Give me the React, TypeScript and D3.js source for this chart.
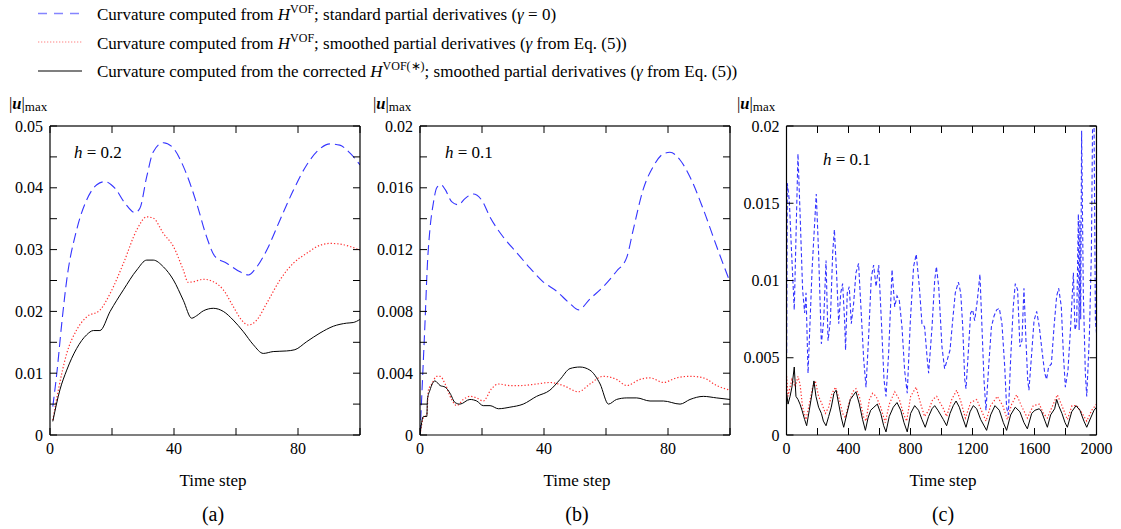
import React from 'react';
import * as d3 from 'd3';

type Pt = [number, number];

// ---------- Panel (a): h = 0.2 ----------
const A_BLUE: Pt[] = [
  [0.9, 0.0046], [2.2, 0.01], [3.8, 0.0181], [5.4, 0.0251], [8.6, 0.0332], [11.8, 0.038],
  [15.1, 0.0405], [17.7, 0.041], [21, 0.0399], [24.2, 0.0375], [27.4, 0.036], [29, 0.0367],
  [31.2, 0.0418], [33.3, 0.0458], [36.6, 0.0473], [39.8, 0.0464], [43.5, 0.0429], [47.3, 0.0375],
  [50.5, 0.0321], [53.2, 0.0289], [57, 0.0278], [61.3, 0.0264], [64, 0.0259], [66.7, 0.0272],
  [69.9, 0.0299], [74.2, 0.0348], [78.5, 0.0396], [82.8, 0.0437], [86.6, 0.0461], [90.3, 0.0471],
  [93.5, 0.0469], [96.8, 0.0456], [100, 0.0437],
];
const A_RED: Pt[] = [
  [0.9, 0.0024], [2.7, 0.0073], [5.4, 0.0132], [8.6, 0.017], [11.8, 0.0191], [16.1, 0.0202],
  [19.4, 0.0229], [23.7, 0.0278], [28, 0.0332], [31.2, 0.0353], [33.3, 0.0351], [36.6, 0.0326],
  [39.8, 0.0305], [43, 0.0267], [44.6, 0.0247], [46.2, 0.0248], [49.5, 0.0252], [52.7, 0.0248],
  [55.9, 0.0235], [59.1, 0.0208], [61.8, 0.0186], [64, 0.0178], [66.7, 0.0186], [69.9, 0.0213],
  [74.2, 0.0251], [78.5, 0.0278], [82.8, 0.0294], [87.1, 0.0307], [90.3, 0.031], [93.5, 0.0309],
  [96.8, 0.0305], [100, 0.0299],
];
const A_BLACK: Pt[] = [
  [0.9, 0.0022], [3.2, 0.0073], [5.4, 0.0105], [8.6, 0.014], [11.8, 0.0162], [14, 0.0169],
  [16.1, 0.0169], [19.4, 0.02], [23.7, 0.0235], [28, 0.0267], [31.2, 0.0283], [33.3, 0.0283],
  [36.6, 0.0272], [39.8, 0.0251], [43, 0.0218], [45.7, 0.0189], [47.3, 0.0193], [49.5, 0.0201],
  [52.7, 0.0205], [55.9, 0.02], [59.1, 0.0186], [62.4, 0.0167], [65.6, 0.0146], [68.8, 0.0132],
  [72, 0.0135], [76.3, 0.0136], [79, 0.0138], [82.8, 0.0151], [87.1, 0.0165], [91.4, 0.0176],
  [95.7, 0.0181], [97.8, 0.0182], [100, 0.0187],
];

// ---------- Panel (b): h = 0.1 ----------
const B_BLUE: Pt[] = [
  [0, 0], [0.9, 0.004], [1.6, 0.0072], [2.4, 0.0111], [3.2, 0.0133], [4.3, 0.015], [5.4, 0.016],
  [6.7, 0.0162], [8.1, 0.0159], [10.2, 0.0151], [12.4, 0.0149], [14.5, 0.0153], [17.2, 0.0156],
  [19.9, 0.0152], [22.6, 0.0141], [26.9, 0.0128], [31.2, 0.0118], [35.5, 0.0108], [39.8, 0.0099],
  [44.1, 0.0093], [48.4, 0.0085], [51.1, 0.0081], [54.8, 0.0088], [59.1, 0.0096], [63.4, 0.0106],
  [66.7, 0.0115], [68.8, 0.0133], [72, 0.0159], [75.3, 0.0174], [78.5, 0.0182], [80.6, 0.0183],
  [83.9, 0.0178], [87.1, 0.0167], [91.4, 0.0146], [95.7, 0.0122], [100, 0.0099],
];
const B_RED: Pt[] = [
  [0, 0], [1.1, 0.0011], [2.2, 0.0013], [2.7, 0.0029], [3.8, 0.0033], [5.4, 0.0038], [6.5, 0.0038],
  [8.1, 0.0033], [10.2, 0.0023], [11.8, 0.0019], [14, 0.0023], [16.1, 0.0025], [18.3, 0.0024],
  [20.4, 0.0022], [23.1, 0.003], [25.3, 0.0033], [29, 0.0032], [32.3, 0.0032], [37.6, 0.0033],
  [41.9, 0.0034], [46.2, 0.0032], [51.1, 0.0028], [54.8, 0.0033], [59.1, 0.0038], [63.4, 0.0036],
  [66.7, 0.0032], [71, 0.0036], [74.2, 0.0037], [78.5, 0.0034], [82.8, 0.0037], [87.1, 0.0038],
  [91.4, 0.0037], [95.7, 0.0032], [100, 0.0029],
];
const B_BLACK: Pt[] = [
  [0, 0], [1.1, 0.0012], [2.2, 0.0012], [2.4, 0.0023], [3.2, 0.0029], [4.8, 0.0035], [6.5, 0.0032],
  [8.1, 0.0031], [9.7, 0.0027], [11.3, 0.0021], [12.9, 0.002], [16.1, 0.0023], [18.3, 0.0022],
  [20.4, 0.0019], [22.6, 0.0019], [25.3, 0.0017], [29, 0.0018], [33.3, 0.002], [37.6, 0.0025],
  [41.9, 0.0029], [45.2, 0.0036], [48.4, 0.0043], [51.6, 0.0044], [54.8, 0.0042], [58.1, 0.0033],
  [60.8, 0.002], [63.4, 0.0023], [66.7, 0.0024], [69.9, 0.0024], [74.2, 0.0022], [78.5, 0.0022],
  [83.9, 0.002], [87.1, 0.0023], [91.4, 0.0025], [95.7, 0.0024], [100, 0.0023],
];

// ---------- Panel (c): h = 0.1, long run ----------
const C_BLUE: Pt[] = [
  [1, 0.0053], [5, 0.0163], [18, 0.0152], [31, 0.0122], [50, 0.0081], [74, 0.0182], [89, 0.0139],
  [104, 0.0094], [117, 0.0079], [126, 0.0092], [139, 0.004], [165, 0.0107], [192, 0.0156],
  [207, 0.0118], [225, 0.0059], [240, 0.0074], [255, 0.0113], [268, 0.0061], [283, 0.0074],
  [298, 0.0118], [309, 0.0133], [322, 0.0107], [337, 0.0072], [350, 0.0092], [362, 0.0098],
  [375, 0.0074], [381, 0.0055], [392, 0.0092], [405, 0.0096], [418, 0.0072], [433, 0.0085],
  [448, 0.0105], [465, 0.0111], [480, 0.0083], [498, 0.0049], [513, 0.0031], [530, 0.0064],
  [547, 0.0102], [562, 0.011], [578, 0.0096], [595, 0.011], [612, 0.0074], [629, 0.0036],
  [642, 0.0025], [659, 0.0053], [681, 0.0107], [698, 0.0083], [713, 0.009], [728, 0.0087],
  [745, 0.007], [762, 0.0042], [779, 0.0027], [799, 0.0074], [820, 0.0109], [837, 0.0117],
  [857, 0.0096], [874, 0.0072], [891, 0.007], [908, 0.0049], [917, 0.004], [939, 0.007],
  [956, 0.01], [967, 0.0109], [982, 0.0096], [1003, 0.0057], [1020, 0.0043], [1038, 0.0049],
  [1055, 0.0055], [1072, 0.0074], [1089, 0.0092], [1109, 0.0099], [1124, 0.0092], [1137, 0.007],
  [1150, 0.0036], [1158, 0.003], [1175, 0.0057], [1188, 0.0079], [1201, 0.0081], [1214, 0.0074],
  [1231, 0.0087], [1248, 0.0104], [1261, 0.007], [1274, 0.0036], [1287, 0.0016], [1304, 0.0044],
  [1322, 0.007], [1339, 0.0077], [1356, 0.0081], [1373, 0.0082], [1390, 0.0072], [1408, 0.0044],
  [1420, 0.0018], [1431, 0.0013], [1446, 0.0049], [1463, 0.0083], [1476, 0.0098], [1491, 0.0094],
  [1506, 0.0057], [1519, 0.0061], [1532, 0.0095], [1545, 0.0061], [1556, 0.0036], [1564, 0.0029],
  [1582, 0.0053], [1597, 0.0074], [1614, 0.008], [1631, 0.007], [1648, 0.0055], [1666, 0.004],
  [1678, 0.0036], [1691, 0.0044], [1709, 0.0046], [1726, 0.007], [1743, 0.009], [1756, 0.0095],
  [1773, 0.0083], [1786, 0.0053], [1799, 0.0031], [1816, 0.0042], [1833, 0.007], [1851, 0.0105],
  [1861, 0.0068], [1872, 0.0072], [1883, 0.0143], [1888, 0.0068], [1893, 0.0139], [1898, 0.0075],
  [1904, 0.0197], [1915, 0.0092], [1928, 0.004], [1937, 0.0025], [1954, 0.0064], [1967, 0.0118],
  [1975, 0.0205], [1984, 0.0205], [1993, 0.0074], [2000, 0.0066],
];
const C_RED: Pt[] = [
  [1, 0.0038], [10, 0.0025], [23, 0.0031], [35, 0.0036], [57, 0.0031], [74, 0.0038], [87, 0.0033],
  [104, 0.0018], [126, 0.001], [147, 0.002], [169, 0.0031], [186, 0.0035], [207, 0.0025],
  [229, 0.002], [251, 0.0014], [272, 0.0018], [294, 0.0027], [316, 0.0031], [341, 0.0023],
  [362, 0.0014], [380, 0.0011], [401, 0.002], [427, 0.0028], [448, 0.003], [470, 0.0025],
  [496, 0.0012], [513, 0.0009], [535, 0.0023], [556, 0.0027], [578, 0.0025], [608, 0.0018],
  [637, 0.0008], [663, 0.002], [698, 0.0028], [728, 0.0023], [754, 0.0014], [775, 0.0009],
  [801, 0.0025], [836, 0.0031], [866, 0.002], [891, 0.0012], [917, 0.0016], [943, 0.0023],
  [969, 0.0025], [995, 0.002], [1008, 0.0018], [1033, 0.0012], [1066, 0.0023], [1098, 0.0029],
  [1124, 0.0022], [1154, 0.0011], [1188, 0.0021], [1227, 0.0023], [1257, 0.0016], [1287, 0.0009],
  [1317, 0.0019], [1360, 0.0025], [1395, 0.0019], [1425, 0.001], [1453, 0.002], [1485, 0.0026],
  [1515, 0.0019], [1554, 0.0011], [1592, 0.0019], [1631, 0.002], [1657, 0.0014], [1683, 0.0011],
  [1717, 0.0019], [1747, 0.0026], [1777, 0.0019], [1812, 0.001], [1842, 0.0019], [1872, 0.0019],
  [1902, 0.0015], [1937, 0.0009], [1969, 0.0016], [2000, 0.002],
];
const C_BLACK: Pt[] = [
  [1, 0.0027], [10, 0.002], [23, 0.0025], [35, 0.0031], [50, 0.0044], [61, 0.0025], [74, 0.0023],
  [87, 0.002], [100, 0.0016], [117, 0.001], [130, 0.0006], [147, 0.0016], [165, 0.0027],
  [177, 0.0035], [190, 0.0025], [207, 0.0018], [225, 0.0014], [238, 0.0009], [255, 0.0006],
  [272, 0.0012], [289, 0.0018], [306, 0.0027], [320, 0.0029], [337, 0.002], [354, 0.0011],
  [369, 0.0005], [390, 0.0014], [412, 0.0023], [448, 0.0028], [470, 0.002], [491, 0.001],
  [509, 0.0003], [526, 0.0011], [543, 0.0016], [564, 0.0018], [586, 0.002], [608, 0.0014],
  [627, 0.0006], [642, 0.0002], [663, 0.0012], [689, 0.0018], [713, 0.0021], [737, 0.0016],
  [758, 0.0008], [779, 0.0002], [801, 0.0014], [827, 0.0019], [852, 0.0016], [874, 0.001],
  [895, 0.0005], [917, 0.0012], [939, 0.0017], [956, 0.0019], [977, 0.0016], [1012, 0.001],
  [1033, 0.0006], [1055, 0.0014], [1076, 0.0019], [1094, 0.0022], [1115, 0.0018], [1137, 0.0011],
  [1158, 0.0005], [1184, 0.0015], [1205, 0.0019], [1227, 0.0017], [1253, 0.001], [1291, 0.0003],
  [1317, 0.0013], [1345, 0.0019], [1373, 0.0016], [1399, 0.0008], [1420, 0.0003], [1446, 0.0013],
  [1476, 0.0018], [1506, 0.0015], [1532, 0.0008], [1554, 0.0004], [1582, 0.0014], [1603, 0.0016],
  [1631, 0.0017], [1646, 0.0015], [1668, 0.0009], [1683, 0.0005], [1704, 0.0013], [1730, 0.0017],
  [1743, 0.0023], [1756, 0.0019], [1777, 0.0014], [1797, 0.0008], [1812, 0.0005], [1840, 0.0015],
  [1868, 0.0019], [1893, 0.0016], [1919, 0.0009], [1937, 0.0005], [1962, 0.0011], [1984, 0.0016],
  [2000, 0.0018],
];

// ---------- Axes ----------
const A_X_TICKS = [0, 20, 40, 60, 80, 100];
const A_X_LABELS = [0, 40, 80];
const A_Y_TICKS = [0, 0.005, 0.01, 0.015, 0.02, 0.025, 0.03, 0.035, 0.04, 0.045, 0.05];
const A_Y_LABELS = [0, 0.01, 0.02, 0.03, 0.04, 0.05];

const B_X_TICKS = [0, 20, 40, 60, 80, 100];
const B_X_LABELS = [0, 40, 80];
const B_Y_TICKS = [0, 0.002, 0.004, 0.006, 0.008, 0.01, 0.012, 0.014, 0.016, 0.018, 0.02];
const B_Y_LABELS = [0, 0.004, 0.008, 0.012, 0.016, 0.02];

const C_X_TICKS = [0, 200, 400, 600, 800, 1000, 1200, 1400, 1600, 1800, 2000];
const C_X_LABELS = [0, 400, 800, 1200, 1600, 2000];
const C_Y_TICKS = [0, 0.005, 0.01, 0.015, 0.02];
const C_Y_LABELS = [0, 0.005, 0.01, 0.015, 0.02];

const BLUE = '#3434ff';
const RED = '#ff3030';
const FONT = '"Liberation Serif", "Times New Roman", serif';

const TOP = 126;
const BOTTOM = 435;

type PanelDef = {
  id: string;
  left: number;
  right: number;
  xMax: number;
  yMax: number;
  xTicks: number[];
  xLabels: number[];
  yTicks: number[];
  yLabels: number[];
  blue: Pt[];
  red: Pt[];
  black: Pt[];
  hText: string;
  hX: number;
  hY: number;
  labelX: number;
  captionX: number;
  caption: string;
  blueDash: string;
  smooth: boolean;
};

const PANELS: PanelDef[] = [
  {
    id: 'a', left: 50, right: 360, xMax: 100, yMax: 0.05,
    xTicks: A_X_TICKS, xLabels: A_X_LABELS, yTicks: A_Y_TICKS, yLabels: A_Y_LABELS,
    blue: A_BLUE, red: A_RED, black: A_BLACK, hText: '0.2', hX: 74, hY: 158,
    labelX: 9, captionX: 213, caption: '(a)', blueDash: '10,5', smooth: true,
  },
  {
    id: 'b', left: 420, right: 730, xMax: 100, yMax: 0.02,
    xTicks: B_X_TICKS, xLabels: B_X_LABELS, yTicks: B_Y_TICKS, yLabels: B_Y_LABELS,
    blue: B_BLUE, red: B_RED, black: B_BLACK, hText: '0.1', hX: 445, hY: 158,
    labelX: 373, captionX: 577, caption: '(b)', blueDash: '10,5', smooth: true,
  },
  {
    id: 'c', left: 786.5, right: 1096.5, xMax: 2000, yMax: 0.02,
    xTicks: C_X_TICKS, xLabels: C_X_LABELS, yTicks: C_Y_TICKS, yLabels: C_Y_LABELS,
    blue: C_BLUE, red: C_RED, black: C_BLACK, hText: '0.1', hX: 823, hY: 165,
    labelX: 737, captionX: 943, caption: '(c)', blueDash: '4,2.5', smooth: false,
  },
];

const fmt = (v: number) => (v === 0 ? '0' : String(+v.toFixed(4)));

function Panel({ p }: { p: PanelDef }) {
  const x = d3.scaleLinear().domain([0, p.xMax]).range([p.left, p.right]);
  const y = d3.scaleLinear().domain([0, p.yMax]).range([BOTTOM, TOP]);
  const line = d3
    .line<Pt>()
    .x((d) => x(d[0]))
    .y((d) => y(d[1]))
    .curve(p.smooth ? d3.curveMonotoneX : d3.curveLinear);
  const tl = 7;
  const clipId = `clip-${p.id}`;
  return (
    <g>
      <defs>
        <clipPath id={clipId}>
          <rect x={p.left} y={TOP} width={p.right - p.left} height={BOTTOM - TOP} />
        </clipPath>
      </defs>
      <g clipPath={`url(#${clipId})`}>
        <path d={line(p.red) || ''} fill="none" stroke={RED} strokeWidth={1.2} strokeDasharray="1.3,2" />
        <path d={line(p.blue) || ''} fill="none" stroke={BLUE} strokeWidth={1.1} strokeDasharray={p.blueDash} />
        <path d={line(p.black) || ''} fill="none" stroke="#000" strokeWidth={1} />
      </g>
      {/* frame */}
      <line x1={p.left} x2={p.right} y1={TOP} y2={TOP} stroke="#666" strokeWidth={2} />
      <line x1={p.left} x2={p.right} y1={BOTTOM} y2={BOTTOM} stroke="#000" strokeWidth={1.2} />
      <line x1={p.left} x2={p.left} y1={TOP} y2={BOTTOM} stroke="#000" strokeWidth={1.2} />
      <line x1={p.right} x2={p.right} y1={TOP} y2={BOTTOM} stroke="#000" strokeWidth={1.2} />
      {/* ticks */}
      {p.xTicks.map((t) => (
        <g key={`xt${t}`}>
          <line x1={x(t)} x2={x(t)} y1={BOTTOM} y2={BOTTOM - tl} stroke="#000" strokeWidth={1} />
          <line x1={x(t)} x2={x(t)} y1={TOP} y2={TOP + tl} stroke="#000" strokeWidth={1} />
        </g>
      ))}
      {p.yTicks.map((t) => (
        <g key={`yt${t}`}>
          <line x1={p.left} x2={p.left + tl} y1={y(t)} y2={y(t)} stroke="#000" strokeWidth={1} />
          <line x1={p.right} x2={p.right - tl} y1={y(t)} y2={y(t)} stroke="#000" strokeWidth={1} />
        </g>
      ))}
      {p.xLabels.map((t) => (
        <text key={`xl${t}`} x={x(t)} y={454} textAnchor="middle" fontSize={16} fontFamily={FONT}>
          {fmt(t)}
        </text>
      ))}
      {p.yLabels.map((t) => (
        <text key={`yl${t}`} x={p.left - 7} y={y(t) + 5.5} textAnchor="end" fontSize={16} fontFamily={FONT}>
          {fmt(t)}
        </text>
      ))}
      {/* y label */}
      <text x={p.labelX} y={109} fontSize={16.5} fontFamily={FONT}>
        <tspan>|</tspan>
        <tspan fontWeight="bold" fontStyle="italic">u</tspan>
        <tspan>|</tspan>
        <tspan fontSize={13} dy={2}>max</tspan>
      </text>
      {/* h label */}
      <text x={p.hX} y={p.hY} fontSize={17} fontFamily={FONT}>
        <tspan fontStyle="italic">h</tspan>
        <tspan> = {p.hText}</tspan>
      </text>
      {/* x label and caption */}
      <text x={p.captionX} y={486} textAnchor="middle" fontSize={17} fontFamily={FONT}>
        Time step
      </text>
      <text x={p.captionX} y={521} textAnchor="middle" fontSize={20} fontFamily={FONT}>
        {p.caption}
      </text>
    </g>
  );
}

function Legend() {
  const lx1 = 38;
  const lx2 = 82;
  const tx = 97;
  const rows = [20, 48.5, 77];
  return (
    <g fontFamily={FONT} fontSize={17}>
      <line x1={lx1} x2={lx2} y1={13.5} y2={13.5} stroke={BLUE} strokeOpacity={0.6} strokeWidth={1.5} strokeDasharray="9,7" />
      <line x1={lx1} x2={lx2} y1={42} y2={42} stroke={RED} strokeOpacity={0.6} strokeWidth={1.2} strokeDasharray="1.3,1.7" />
      <line x1={lx1} x2={lx2} y1={71} y2={71} stroke="#000" strokeWidth={1.2} />
      <text x={tx} y={rows[0]}>
        Curvature computed from <tspan fontStyle="italic">H</tspan>
        <tspan fontSize={12} dy={-7}>VOF</tspan>
        <tspan dy={7}>; standard partial derivatives (</tspan>
        <tspan fontStyle="italic">γ</tspan>
        <tspan> = 0)</tspan>
      </text>
      <text x={tx} y={rows[1]}>
        Curvature computed from <tspan fontStyle="italic">H</tspan>
        <tspan fontSize={12} dy={-7}>VOF</tspan>
        <tspan dy={7}>; smoothed partial derivatives (</tspan>
        <tspan fontStyle="italic">γ</tspan>
        <tspan> from Eq. (5))</tspan>
      </text>
      <text x={tx} y={rows[2]}>
        Curvature computed from the corrected <tspan fontStyle="italic">H</tspan>
        <tspan fontSize={12} dy={-7}>VOF(∗)</tspan>
        <tspan dy={7}>; smoothed partial derivatives (</tspan>
        <tspan fontStyle="italic">γ</tspan>
        <tspan> from Eq. (5))</tspan>
      </text>
    </g>
  );
}

export default function App() {
  return (
    <svg
      width={1121}
      height={529}
      viewBox="0 0 1121 529"
      style={{ position: 'absolute', left: 0, top: 0, background: '#fff' }}
    >
      <rect x={0} y={0} width={1121} height={529} fill="#fff" />
      <Legend />
      {PANELS.map((p) => (
        <Panel key={p.id} p={p} />
      ))}
    </svg>
  );
}
